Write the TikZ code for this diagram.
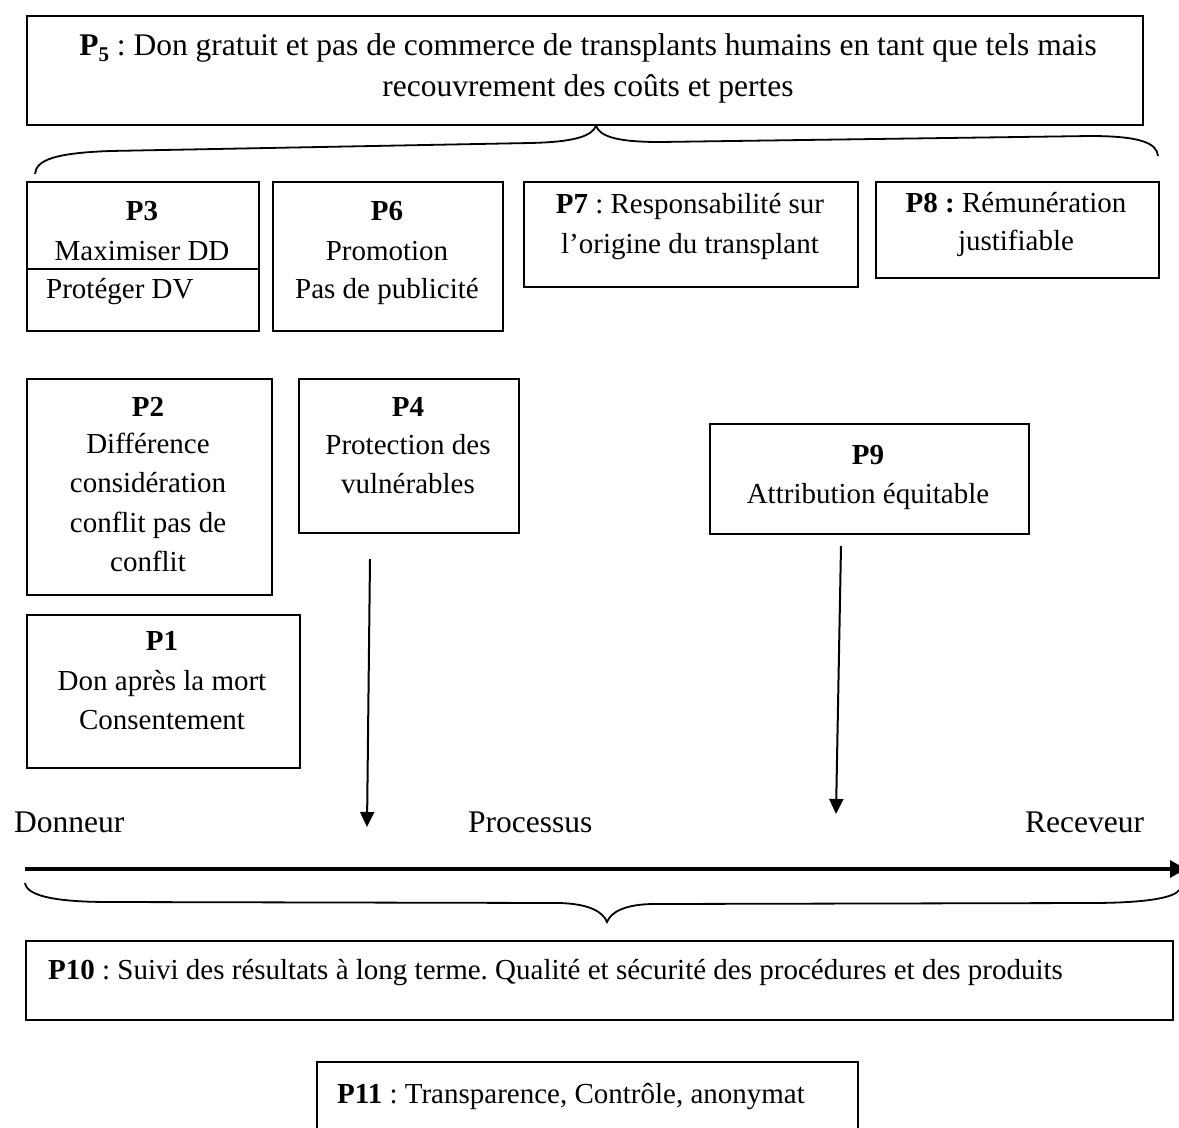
\documentclass[tikz,border=0pt]{standalone}
\usepackage{fontspec}
\setmainfont{Liberation Serif}
\usetikzlibrary{arrows.meta}
\newcommand\mylbl{\fontsize{31.5}{40}\selectfont}
\newcommand\mybox{\fontsize{29}{36}\selectfont}
\frenchspacing
\begin{document}
\begin{tikzpicture}[x=1pt,y=-1pt,
  box/.style={draw, line width=1.8pt, inner sep=0pt, anchor=north west},
  tc/.style={anchor=base, inner sep=0pt, font=\mybox},
  tw/.style={anchor=base west, inner sep=0pt, font=\mybox},
  lc/.style={anchor=base, inner sep=0pt, font=\mylbl},
  lw/.style={anchor=base west, inner sep=0pt, font=\mylbl},
  brace/.style={draw, line width=1.8pt},
  arr/.style={line width=2pt, -{Triangle[length=15pt,width=14pt]}},
  mainarr/.style={line width=3.2pt, -{Triangle[length=16pt,width=17pt]}}]
\useasboundingbox (0,0) rectangle (1179,1128);
\fill[white] (0,0) rectangle (1179,1128);

% boxes
\node[box, minimum width=1116pt, minimum height=109pt] (p5) at (26,15) {};
\node[box, minimum width=232pt, minimum height=149pt] (p3) at (26,181) {};
\node[box, minimum width=230pt, minimum height=149pt] (p6) at (272,181) {};
\node[box, minimum width=334pt, minimum height=105pt] (p7) at (523,181) {};
\node[box, minimum width=283pt, minimum height=96pt] (p8) at (875,181) {};
\node[box, minimum width=245pt, minimum height=216pt] (p2) at (26,378) {};
\node[box, minimum width=220pt, minimum height=154pt] (p4) at (298,378) {};
\node[box, minimum width=319pt, minimum height=110pt] (p9) at (709,423) {};
\node[box, minimum width=273pt, minimum height=153pt] (p1) at (26,614) {};
\node[box, minimum width=1147pt, minimum height=79pt] (p10) at (25,940) {};
\node[box, minimum width=541pt, minimum height=90pt] (p11) at (316,1061) {};

% P3 divider
\coordinate (dv) at (0,269);
\draw[line width=1.8pt] (p3.west |- dv) -- (p3.east |- dv);

% texts
\node[lc] (t5a) at (588,55) {\textbf{P}\raisebox{-6pt}{\fontsize{21}{21}\selectfont\bfseries 5} : Don gratuit et pas de commerce de transplants humains en tant que tels mais};
\node[lc] (t5b) at (588,96) {recouvrement des coûts et pertes};

\node[tc] (t3a) at (142,220) {\textbf{P3}};
\node[tc] (t3b) at (142,260) {Maximiser DD};
\node[tw] (t3c) at (46,298) {Protéger DV};

\node[tc] (t6a) at (387,220) {\textbf{P6}};
\node[tc] (t6b) at (387,260) {Promotion};
\node[tc] (t6c) at (387,298) {Pas de publicité};

\node[tc] (t7a) at (690,213) {\textbf{P7} : Responsabilité sur};
\node[tc] (t7b) at (690,253) {l’origine du transplant};

\node[tc] (t8a) at (1016,212) {\textbf{P8 :} Rémunération};
\node[tc] (t8b) at (1016,250) {justifiable};

\node[tc] (t2a) at (148,416) {\textbf{P2}};
\node[tc] (t2b) at (148,453) {Différence};
\node[tc] (t2c) at (148,492) {considération};
\node[tc] (t2d) at (148,532) {conflit pas de};
\node[tc] (t2e) at (148,571) {conflit};

\node[tc] (t4a) at (408,416) {\textbf{P4}};
\node[tc] (t4b) at (408,454) {Protection des};
\node[tc] (t4c) at (408,493) {vulnérables};

\node[tc] (t9a) at (868,464) {\textbf{P9}};
\node[tc] (t9b) at (868,503) {Attribution équitable};

\node[tc] (t1a) at (162,650) {\textbf{P1}};
\node[tc] (t1b) at (162,690) {Don après la mort};
\node[tc] (t1c) at (162,729) {Consentement};

\node[lw] (don) at (14,832) {Donneur};
\node[lw] (proc) at (468,832) {Processus};
\node[lw] (rec) at (1025,832) {Receveur};

\node[tw] (t10) at (48,979) {\textbf{P10} : Suivi des résultats à long terme. Qualité et sécurité des procédures et des produits};
\node[tw] (t11) at (337,1103) {\textbf{P11} : Transparence, Contrôle, anonymat};

% braces
\draw[brace] (35,174) .. controls (36,160) and (55,153) .. (110,151) -- (530,143)
  .. controls (575,142) and (592,136) .. (p5.south -| 596,0)
  .. controls (600,136) and (615,142) .. (660,142) -- (1090,136)
  .. controls (1140,136) and (1157,143) .. (1158,156);
\draw[brace] (25,883) .. controls (27,897) and (60,902) .. (110,902) -- (560,903)
  .. controls (590,904) and (603,912) .. (607,922)
  .. controls (611,912) and (625,904) .. (655,904) -- (1090,903)
  .. controls (1150,903) and (1175,897) .. (1179,890);

% arrows
\coordinate (a1s) at (370,559);
\coordinate (a1e) at (367,827);
\coordinate (a2s) at (841,546);
\coordinate (a2e) at (836,814);
\coordinate (ms) at (25,869);
\coordinate (me) at (1186,869);
\draw[arr] (a1s) -- (a1e);
\draw[arr] (a2s) -- (a2e);
\draw[mainarr] (ms) -- (me);
\end{tikzpicture}
\end{document}
